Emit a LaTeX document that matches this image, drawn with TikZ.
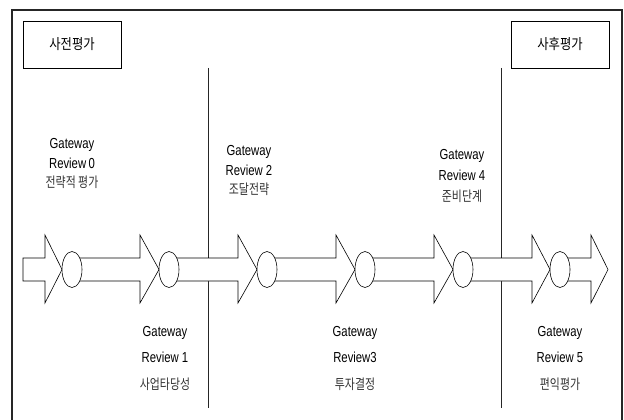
\documentclass[tikz,border=0pt]{standalone}
\usepackage{fontspec}
\usetikzlibrary{shapes.geometric}
\newfontfamily\latf[FakeStretch=0.78]{Liberation Sans}
\newfontfamily\korf[FakeStretch=0.85]{Noto Sans CJK KR}
\newfontfamily\korl[FakeStretch=0.78]{Noto Sans CJK KR}
\tikzset{
  frameline/.style={line width=1.6pt, black!85},
  sepline/.style={line width=0.8pt, black!85},
  titlebox/.style={draw, line width=0.6pt, minimum width=98pt, minimum height=47pt, inner sep=0pt, font=\korf\fontsize{14.5}{14.5}\selectfont},
  arrowshape/.style={draw, line width=0.6pt, fill=white},
  gate/.style={ellipse, draw, line width=0.6pt, fill=white, minimum width=20pt, minimum height=36pt, inner sep=0pt},
  lat/.style={font=\latf\fontsize{14.5}{14.5}\selectfont, inner sep=0pt},
  kor/.style={font=\korl\fontsize{14}{14}\selectfont, text=black!80, inner sep=0pt}
}
\newcommand{\gwlabel}[7]{%
  \node[lat] (#1a) at (#2,#3) {Gateway};
  \node[lat] (#1b) at (#2,#4) {#6};
  \node[kor] (#1c) at (#2,#5) {#7};
}
\newcommand{\stagearrow}[4]{% start x, head x, tip x
  \draw[arrowshape] (#1,258) -- (#2,258) -- (#2,235) -- (#3,269.5) -- (#2,303) -- (#2,281) -- (#1,281) -- cycle;
}
\begin{document}
\begin{tikzpicture}[x=1pt,y=-1pt]
\useasboundingbox (0,0) rectangle (624,420);
% outer frame (bottom edge lies beyond the picture)
\draw[frameline] (12,425) -- (12,10) -- (622,10) -- (622,425);
% title boxes
\node[titlebox] (pre) at (72,44.5) {사전평가};
\node[titlebox] (post) at (560,44.5) {사후평가};
% separators
\coordinate (s1t) at (208,68); \coordinate (s1b) at (208,408);
\coordinate (s2t) at (501,68); \coordinate (s2b) at (501,408);
\draw[sepline] (s1t) -- (s1b);
\draw[sepline] (s2t) -- (s2b);
% arrows
\stagearrow{23}{45}{62}{}
\stagearrow{72}{140}{159}{}
\stagearrow{169}{238}{257}{}
\stagearrow{267}{336}{355}{}
\stagearrow{365}{434}{453}{}
\stagearrow{463}{532}{550}{}
\stagearrow{560}{591}{608}{}
% gates
\node[gate] (e0) at (72,269.5) {};
\node[gate] (e1) at (169,269.5) {};
\node[gate] (e2) at (267,269.5) {};
\node[gate] (e3) at (365,269.5) {};
\node[gate] (e4) at (463,269.5) {};
\node[gate] (e5) at (560,269.5) {};
% labels
\gwlabel{g0}{72}{145}{163}{182}{Review\,0}{전략적 평가}
\gwlabel{g2}{249}{152}{170}{189}{Review 2}{조달전략}
\gwlabel{g4}{462}{156}{175}{196}{Review 4}{준비단계}
\gwlabel{g1}{165}{333}{357}{384}{Review 1}{사업타당성}
\gwlabel{g3}{355}{333}{357}{384}{Review3}{투자결정}
\gwlabel{g5}{560}{333}{357}{384}{Review 5}{편익평가}
\end{tikzpicture}
\end{document}
